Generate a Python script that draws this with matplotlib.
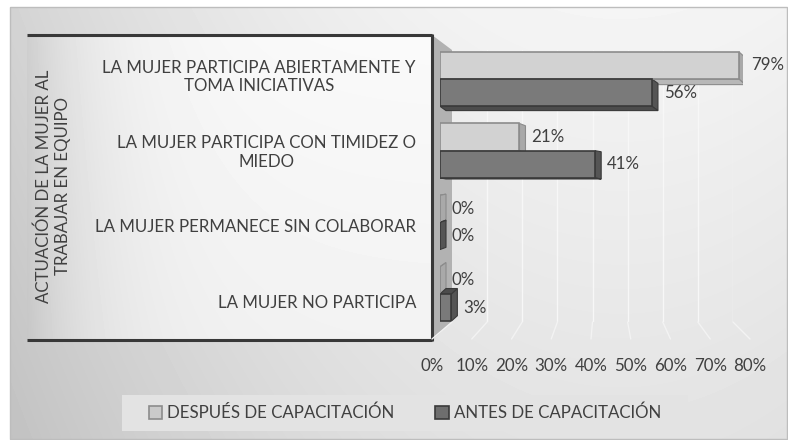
import numpy as np
import matplotlib
matplotlib.use("Agg")
import matplotlib.pyplot as plt
from matplotlib.patches import Polygon, Rectangle, Patch, ConnectionPatch

# --- Datos ---
categorias = ["LA MUJER PARTICIPA ABIERTAMENTE Y\nTOMA INICIATIVAS",
              "LA MUJER PARTICIPA CON TIMIDEZ O\nMIEDO",
              "LA MUJER PERMANECE SIN COLABORAR",
              "LA MUJER NO PARTICIPA"]
despues = [0.79, 0.21, 0.00, 0.00]
antes = [0.56, 0.41, 0.00, 0.03]
series = ["DESPUÉS DE CAPACITACIÓN", "ANTES DE CAPACITACIÓN"]
ticks_x = [0.0, 0.1, 0.2, 0.3, 0.4, 0.5, 0.6, 0.7, 0.8]
titulo_eje = "ACTUACIÓN DE LA MUJER AL\nTRABAJAR EN EQUIPO"

W, H = 788, 440
plt.rcParams['font.family'] = ['Lato', 'DejaVu Sans']
TXT = '#404040'
FS = 12.2

fig = plt.figure(figsize=(W / 100, H / 100), dpi=100)


def caja(l, t, r, b):
    """Rectángulo en píxeles (origen arriba a la izquierda) -> fracción de figura"""
    return [l / W, 1 - b / H, (r - l) / W, (b - t) / H]


# --- Fondo (lienzo en píxeles) ---
bg = fig.add_axes([0, 0, 1, 1])
yy, xx = np.mgrid[7:H:1.0, 10:W:1.0]
val = 0.96 - 0.13 * ((xx - 620) / 610) ** 2 - 0.07 * (yy / H)
bg.imshow(val, cmap='gray', vmin=0, vmax=1, extent=(10, W, H, 7),
          aspect='auto', interpolation='bilinear')
bg.add_patch(Rectangle((10, 7), W - 11, H - 8, fill=False, ec='#bdbdbd', lw=1))

# panel blanco de las categorías
py, px = np.mgrid[35:340:1.0, 27:432:1.0]
pan = 0.81 + 0.17 * (1 - np.exp(-(px - 27) / 70)) - 0.03 * (py - 35) / 305
bg.imshow(pan, cmap='gray', vmin=0, vmax=1, extent=(27, 432, 340, 35),
          aspect='auto', interpolation='bilinear')

# pared lateral
bg.add_patch(Polygon([(432, 35), (452, 50), (452, 322), (432, 340)],
                     closed=True, fc='#b2b2b2', ec='none'))
bg.plot([27, 432], [35, 35], color='#383838', lw=2.2, solid_capstyle='butt')
bg.plot([27, 432], [340, 340], color='#383838', lw=2.2, solid_capstyle='butt')
bg.plot([432, 432], [34, 341], color='#383838', lw=2.2, solid_capstyle='butt')

# caja de la leyenda
bg.add_patch(Rectangle((122, 395), 566, 36, fc='#e3e3e3', ec='none'))
bg.set_xlim(0, W)
bg.set_ylim(H, 0)
bg.axis('off')

# --- Pared del fondo con la cuadrícula ---
ax_w = fig.add_axes(caja(452, 50, 733, 322))
ax_w.set_xlim(0, 0.8)
ax_w.set_ylim(0, 1)
for v in ticks_x[1:]:
    ax_w.axvline(v, color='#f7f7f7', lw=1)
ax_w.axis('off')

# --- Borde frontal del piso con las etiquetas del eje X ---
ax_t = fig.add_axes(caja(432, 339, 750, 340))
ax_t.set_xlim(0, 0.8)
ax_t.set_ylim(0, 1)
ax_t.set_xticks(ticks_x)
ax_t.set_xticklabels([f"{round(v * 100)}%" for v in ticks_x], color=TXT, fontsize=FS)
ax_t.tick_params(axis='x', length=0, pad=13)
ax_t.set_yticks([])
ax_t.patch.set_alpha(0)
for s in ax_t.spines.values():
    s.set_visible(False)

# líneas del piso
for v in ticks_x:
    con = ConnectionPatch(xyA=(v, 0), coordsA=ax_w.transData,
                          xyB=(v, 1), coordsB=ax_t.transData,
                          color='#f3f3f3', lw=1)
    fig.add_artist(con)

# --- Etiquetas de categorías ---
ax_l = fig.add_axes(caja(416, 35, 432, 340))
ax_l.set_ylim(3.505, -0.514)
ax_l.set_yticks(range(len(categorias)))
ax_l.set_yticklabels(categorias, color=TXT, fontsize=FS, multialignment='center')
ax_l.tick_params(axis='y', length=0, pad=0)
ax_l.set_xticks([])
ax_l.patch.set_alpha(0)
for s in ax_l.spines.values():
    s.set_visible(False)

fig.text(53 / W, 1 - 186 / H, titulo_eje, rotation=90, ha='center', va='center',
         multialignment='center', color=TXT, fontsize=FS)

# --- Barras ---
bx0, bx1, by0, by1 = 440, 742.8, 40, 330
ax_b = fig.add_axes(caja(bx0, by0, bx1, by1))
ax_b.set_xlim(0, 0.8)
ax_b.set_ylim(3.504, -0.546)
ax_b.axis('off')
xpp = 0.8 / (bx1 - bx0)
ypp = (3.504 + 0.546) / (by1 - by0)

h = 0.38
pos = np.arange(len(categorias))
estilos = [
    dict(vals=despues, y=pos - h / 2, front='#d2d2d2', side='#a9a9a9', cara='#b8b8b8', edge='#8c8c8c'),
    dict(vals=antes, y=pos + h / 2, front='#7a7a7a', side='#555555', cara='#4c4c4c', edge='#3a3a3a'),
]

for e in estilos:
    for v, yc in zip(e['vals'], e['y']):
        y0, y1 = yc - h / 2, yc + h / 2
        yc_px = by0 + (yc + 0.546) / ypp
        ddx = 6 * xpp
        ddy = 0.045 * (188 - yc_px) * ypp
        ax_b.add_patch(Polygon([(v, y0), (v + ddx, y0 + ddy), (v + ddx, y1 + ddy), (v, y1)],
                               closed=True, fc=e['side'], ec=e['edge'], lw=0.8, zorder=2))
        ye = y1 if ddy > 0 else y0
        ax_b.add_patch(Polygon([(0, ye), (ddx, ye + ddy), (v + ddx, ye + ddy), (v, ye)],
                               closed=True, fc=e['cara'], ec=e['edge'], lw=0.8, zorder=2))
    ax_b.barh(e['y'], e['vals'], height=h, color=e['front'], edgecolor=e['edge'],
              lw=1.2, zorder=3)
    for v, yc in zip(e['vals'], e['y']):
        ax_b.annotate(f"{round(v * 100)}%", xy=(v, yc), xytext=(12, 0),
                      textcoords='offset pixels', ha='left', va='center',
                      color=TXT, fontsize=FS, zorder=5)

# --- Leyenda ---
handles = [Patch(fc='#cacaca', ec='#8c8c8c', lw=1.2),
           Patch(fc='#6e6e6e', ec='#3a3a3a', lw=1.2)]
fig.legend(handles, series, loc='center', bbox_to_anchor=(405 / W, 1 - 413 / H),
           ncol=2, frameon=False, fontsize=FS, handlelength=0.8, handleheight=0.8,
           handletextpad=0.3, columnspacing=2.4, labelcolor=TXT)

fig.savefig('out.png', dpi=100)
